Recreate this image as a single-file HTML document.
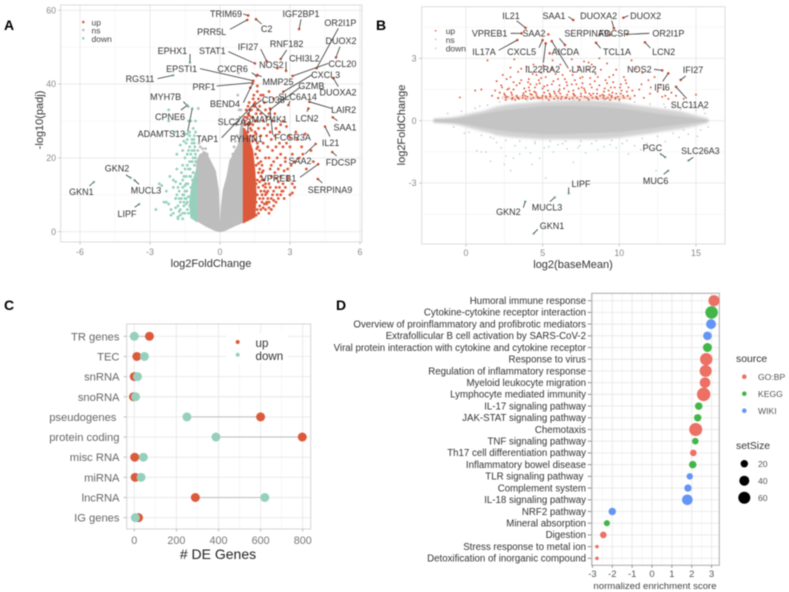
<!DOCTYPE html>
<html lang="en">
<head>
<meta charset="utf-8">
<title>Differential expression figure</title>
<style>
html,body{margin:0;padding:0;background:#fff;}
svg{display:block;filter:blur(0.4px);font-family:"Liberation Sans",sans-serif;}
text{white-space:pre;}
</style>
</head>
<body>
<svg id="figure" xmlns="http://www.w3.org/2000/svg" width="789" height="592" viewBox="0 0 789 592">
  <defs>
    <filter id="soft-edge" x="-5%" y="-30%" width="110%" height="160%"><feGaussianBlur stdDeviation="1.4"/></filter>
    <filter id="soft-core" x="-5%" y="-30%" width="110%" height="160%"><feGaussianBlur stdDeviation="0.7"/></filter>
  </defs>
  <rect x="0" y="0" width="789" height="592" fill="#fff"/>
  <text x="4" y="30" font-size="14" font-weight="bold" fill="#000">A</text>
  <text x="376" y="30" font-size="14" font-weight="bold" fill="#000">B</text>
  <text x="4" y="310" font-size="14" font-weight="bold" fill="#000">C</text>
  <text x="336" y="310" font-size="14" font-weight="bold" fill="#000">D</text>

  <g id="panel-a"></g>
  <g id="panel-b"></g>
  <g id="panel-c"></g>
  <g id="panel-d"></g>

  <text x="211" y="267" font-size="11" fill="#333" text-anchor="middle">log2FoldChange</text>
  <text transform="translate(43,120) rotate(-90)" font-size="11" fill="#333" text-anchor="middle">-log10(padj)</text>
  <text x="573" y="268" font-size="11" fill="#333" text-anchor="middle">log2(baseMean)</text>
  <text transform="translate(405,125) rotate(-90)" font-size="11" fill="#333" text-anchor="middle">log2FoldChange</text>
  <text x="218" y="559" font-size="14" fill="#222" text-anchor="middle"># DE Genes</text>
  <text x="655" y="589" font-size="9.6" fill="#444" text-anchor="middle">normalized enrichment score</text>

  <g font-size="8.5" fill="#444">
    <circle cx="83.3" cy="22" r="1.3" fill="#dc5a3c"/>
    <circle cx="83.3" cy="30" r="1.3" fill="#bdbdbd"/>
    <circle cx="83.3" cy="38.3" r="1.3" fill="#96d0bd"/>
    <text x="91.5" y="25.5">up</text>
    <text x="91.5" y="33.5">ns</text>
    <text x="91.5" y="41.8">down</text>
  </g>
  <g font-size="8.5" fill="#444">
    <circle cx="435.7" cy="30.7" r="0.8" fill="#dc5a3c"/>
    <circle cx="435.7" cy="39.3" r="0.8" fill="#bdbdbd"/>
    <circle cx="435.7" cy="48.3" r="0.8" fill="#a6d6c6"/>
    <text x="445.7" y="34">up</text>
    <text x="445.7" y="43">ns</text>
    <text x="445.7" y="51.5">down</text>
  </g>
  <g id="dumbbell-legend" font-size="11.6" fill="#333">
    <circle cx="237.7" cy="342" r="2" fill="#dc5a3c"/>
    <circle cx="237.7" cy="354.7" r="2" fill="#96d0bd"/>
    <text x="255.5" y="347">up</text>
    <text x="255.5" y="360">down</text>
  </g>
  <g font-size="8.6" fill="#555">
    <text x="736" y="362" font-size="10.4" fill="#333">source</text>
    <circle cx="744.3" cy="376.7" r="2.3" fill="#ec7063"/>
    <circle cx="744.3" cy="393.7" r="2.3" fill="#43b649"/>
    <circle cx="744.3" cy="410.7" r="2.3" fill="#6495f5"/>
    <text x="758" y="380">GO:BP</text>
    <text x="758" y="397">KEGG</text>
    <text x="758" y="414">WIKI</text>
  </g>
  <g font-size="8.6" fill="#555">
    <text x="736" y="449" font-size="10.4" fill="#333">setSize</text>
    <circle cx="744.3" cy="463.7" r="3.7" fill="#000"/>
    <circle cx="744.3" cy="480.7" r="5" fill="#000"/>
    <circle cx="744.3" cy="497.7" r="6" fill="#000"/>
    <text x="758" y="467">20</text>
    <text x="758" y="484">40</text>
    <text x="758" y="501">60</text>
  </g>
</svg>

<script>
/* ---------- Panel A: volcano data ---------- */
const volcanoXTicks = [-6, -3, 0, 3, 6];
const volcanoXMinor = [-4.5, -1.5, 1.5, 4.5];
const volcanoYTicks = [0, 20, 40, 60];
const volcanoYMinor = [10, 30, 50];
const nsEnvelopeFC = [-1,-0.6,-0.2,0,0.2,0.6,1,1,0.95,0.88,0.78,0.65,0.5,0.43,0.3,0.14,0.06,0.02,-0.02,-0.07,-0.2,-0.43,-0.6,-0.86,-1];
const nsEnvelopePadj = [3,1.5,0.3,0,0.3,1.5,2.6,27,30,28,23.5,22,20,19.4,15,11.3,7,2.5,2.5,11.3,16.5,19.4,21.5,21,19];
const upEnvelopeFC = [1,1.25,1.5,1.55,1.5,1.4,1.2,1.05,1];
const upEnvelopePadj = [2.4,3.2,4,10,16,22,26,28,28];
const downEnvelopeFC = [-1,-1.1,-1.25,-1.3,-1.2,-1];
const downEnvelopePadj = [2.7,3.2,3.8,8,13,17];
const volcanoUpFC = [
 2.1,2.2,2.3,2.4,2.5,2.6,2.7,2.8,3.0,3.1,
 2.2,2.3,2.4,2.5,2.6,2.7,2.9,2.1,2.2,2.35,
 2.5,2.6,2.75,2.9,3.05,3.2,2.15,2.3,2.45,2.6,
 2.8,3.1,3.4,3.55,3.7,3.9,4.0,2.1,2.25,2.4,
 2.55,2.7,2.85,3.0,3.3,3.5,3.65,1.8,1.95,2.05,
 2.2,2.35,2.55,1.7,1.85,2.0,2.15,2.4,2.6,2.85,
 1.6,1.75,1.9,2.05,2.25,1.5,1.65,1.85,2.0,1.4,
 1.6,1.75,1.95,2.1,1.35,1.55,1.7,1.9,1.3,1.5,
 1.65,1.85,1.45,1.6,2.1,2.3,1.25,1.15,1.08,1.2,
 1.3,1.6,1.75,2.35,2.7,2.95,3.25,1.05,1.12,1.3,
 1.55,1.6,1.65,1.7,1.75,1.8,1.85,1.9,1.95,2.0,
 1.55,1.6,1.65,1.7,1.75,1.8,1.85,1.9,1.95,2.0,
 1.55,1.6,1.65,1.7,1.75,1.8,1.85,1.9,1.95,2.05,
 1.55,1.6,1.65,1.7,1.75,1.8,1.85,1.52,1.58,1.62,
 1.3,1.35,1.4,1.45,1.5,1.55,1.2,1.25,1.3,1.4,
 1.1,1.15,1.2,1.25,1.35,1.45,1.05,1.5,1.42,1.62,
 2.0,2.1,2.2,2.05,2.15,2.25,1.95,2.1,2.3,2.45,
 2.4,2.55,2.65,2.75,3.1,3.2,2.9,2.2,2.8,3.0
];
const volcanoUpPadj = [
 5,6,7,8,9,10,11,12,10,10.5,
 9,11,12,13.5,15,13,14,13,15,16,
 17,18,16.5,17,18,19,17,19,20,21,
 20,21,20,21,17,22,19,20,22,23,
 24,23,24,25.5,25,23,26.5,18,20,23,
 25,26,27,22,24,26,27,28,29,28.5,
 24,26,28,29,30,27,28,30,31,29,
 30,32,33,32,31,32,34,35,33,35,
 36,37,37,38,38,36,35,31,30,34,
 39,39.5,37,32,30,26,27,29,33,28,
 4.5,6,5,7,6,8,6.5,7.5,6,8,
 8,10,12,9,11,10,9,11,10,10.5,
 13,14,16,13.5,15,14,12.5,14,13,9,
 18,20,18.5,17,19,16,16.5,21,22.5,23,
 26,27.5,24.5,26,25,26.5,27,29,29.5,31,
 29,31,32,31.5,33,34,31,30,36,33,
 7.5,8,6,11,12,10,12,6.5,8.5,10,
 14.5,12,11,9,13,12,15,18,19,23
];
const volcanoDownFC = [
 -1.05,-1.1,-1.2,-1.3,-1.4,-1.5,-1.6,-1.7,-1.8,-1.9,
 -2.0,-2.1,-2.2,-2.3,-2.4,-2.5,-2.6,-2.75,-2.1,-2.0,
 -1.6,-1.7,-1.8,-1.9,-2.0,-2.15,-1.55,-1.65,-1.75,-1.85,
 -1.5,-1.6,-1.4,-1.5,-1.3,-1.4,-1.25,-1.35,-1.15,-1.2,
 -1.3,-1.45,-1.55,-1.7,-1.1,-1.2,-1.3,-1.4,-1.5,-1.05,
 -1.15,-1.3,-1.25,-1.05,-2.2,-1.35,-1.4,-1.75,-1.6,-1.05,
 -1.6,-1.7,-1.8,-1.55,-1.9,-1.65,-1.85,-1.5,-1.6,-1.75,
 -1.1,-1.2,-1.05,-1.15,-1.3,-1.35,-1.45,-1.25,-1.1,-1.2,
 -2.2,-1.95,-1.85,-1.6,-1.45,-1.55,-1.7,-2.3,-1.9,-1.8,
 -1.35,-1.4,-1.45,-1.5,-1.35,-1.42,-1.5,-1.38,-1.45,-1.55,
 -1.1,-1.15,-1.05,-1.1,-1.2,-1.25,-1.08,-1.12,-1.18,-1.28
];
const volcanoDownPadj = [
 4,5,6,7,8,9,10,8,7,9,
 12,6,7.5,8,8,12.5,13,6,4.5,5,
 12,13,12,13.5,14,15,15,16,11,17,
 17,18,18,20,19,21,21,22,20,22,
 23,24,24.5,23.5,24,25,26,25,26.5,27,
 28,27,30,30,33,30,26.5,9,5,19,
 3.5,4.5,3.5,7,6.5,9,10,11,14,5.5,
 18,19,21,16,15,17,15,12,26,24,
 30,27,21,22,13,10,6,11,9,4,
 5,6,7.5,5,9.5,11,12.5,13,9,8,
 18,16,20,22,19,15,23,25,14,17
];
const volcanoNsFC = [0.79,0.76,-0.93,0.9,0.85,0.95,-0.75,-0.7,-0.85,0.7,0.6,0.82,0.92,-0.95,-0.9,0.55,-0.55,0.72,0.66,-0.62];
const volcanoNsPadj = [43,37,33.4,33,31,30,22.5,21.5,23,29,23,33,27,22,24,21,21,26,24.5,22.5];
const volcanoGeneNames = ["TRIM69","PRR5L","C2","IGF2BP1","OR2I1P","DUOX2","RNF182","IFI27","NOS2","STAT1","CHI3L2","CCL20","EPHX1","EPSTI1","CXCR6","MMP25","CXCL3","DUOXA2","RGS11","PRF1","GZMB","SLC6A14","MYH7B","CD38","BEND4","LAIR2","CPNE6","LCN2","MAP4K1","SLC2A3","TAP1","PYHIN1","ADAMTS13","FCGR3A","SAA1","IL21","FDCSP","SAA2","VPREB1","SERPINA9","GKN2","MUCL3","GKN1","LIPF"];
const volcanoGeneFC = [1.21,1.17,1.54,3.39,4.14,4.97,2.6,2.0,2.46,1.5,2.83,3.11,-1.29,1.43,1.57,1.6,2.71,4.86,-2,1.4,2.17,2.93,-1.36,1.43,1.4,3.83,-1.4,3.79,1.5,1.29,1.46,1.21,-1.19,2.14,4.83,4.5,4.81,4.1,4.21,4.19,-3.83,-3.67,-5.4,-3.46];
const volcanoGenePadj = [58.6,57.4,57.6,54.9,44.3,47.2,46.8,46.2,44.3,45.6,43.6,42.2,45.8,40.9,42.2,42.5,37.9,41.6,42.4,40.4,33.2,34.3,33.9,34,40.2,35.2,34.3,33.4,34,33,34.6,29.4,33.4,33.4,31,28.5,21.6,23.8,18.3,14.3,14.6,14,13.5,7.5];
/* label layout in 3x crop pixels: labelX, labelY, leaderEndX, leaderEndY */
const volcanoLabelLayout = [[678,42,730,42],[635,95,690,88],[800,87,785,72],[903,42,903,58],[1021,68,1015,85],[1023,122,1020,140],[860,132,860,150],[744,140,782,147],[814,195,0,0],[637,153,685,155],[913,175,858,185],[1027,192,985,190],[517,153,570,162],[545,206,600,206],[698,206,755,218],[834,246,785,230],[977,224,935,225],[1014,277,1015,260],[420,237,473,236],[612,260,650,258],[934,258,900,262],[893,290,870,303],[497,290,550,305],[820,299,785,300],[675,311,730,308],[1031,329,995,325],[510,350,543,330],[921,355,921,335],[808,358,800,350],[703,365,745,345],[622,417,665,413],[739,417,743,395],[484,402,563,395],[878,412,818,405],[1035,382,1012,362],[992,428,990,410],[1023,487,1010,468],[900,482,915,462],[836,535,900,532],[990,570,967,549],[351,505,378,525],[438,571,417,553],[244,575,268,558],[381,641,404,622]];

/* ---------- Panel B: MA data ---------- */
const maXTicks = [0, 5, 10, 15];
const maXMinor = [2.5, 7.5, 12.5];
const maYTicks = [-3, 0, 3];
const maYMinor = [-4.5, -1.5, 1.5, 4.5];
const maEnvelopeBM = [-2.1,-1.5,-1,-0.5,0,0.5,1,1.5,2,3,4,5,6,7,8,9,10,11,12,13,14,15,15.8];
const maOuterUpper = [0.1,0.12,0.15,0.2,0.3,0.38,0.45,0.55,0.68,0.8,0.85,0.92,0.95,0.98,0.98,0.95,0.88,0.75,0.65,0.55,0.45,0.25,0.1];
const maOuterLower = [-0.1,-0.12,-0.15,-0.2,-0.3,-0.4,-0.5,-0.58,-0.7,-0.8,-0.85,-0.9,-0.9,-0.9,-0.9,-0.88,-0.82,-0.72,-0.62,-0.5,-0.4,-0.25,-0.1];
const maInnerUpper = [0.07,0.08,0.1,0.13,0.18,0.25,0.32,0.38,0.45,0.55,0.62,0.7,0.72,0.72,0.7,0.66,0.6,0.5,0.4,0.3,0.2,0.1,0.04];
const maInnerLower = [-0.07,-0.08,-0.1,-0.13,-0.18,-0.25,-0.32,-0.38,-0.45,-0.55,-0.6,-0.65,-0.65,-0.62,-0.6,-0.58,-0.55,-0.46,-0.38,-0.28,-0.18,-0.1,-0.04];
const maUpBandBM = [2.3, 10.8];
const maUpBandLfc = [1.02, 1.2];
const maUpBM = [
 1.7,1.9,2.1,2.3,2.5,2.7,2.9,3.1,3.3,3.5,
 3.7,3.9,4.1,4.3,4.5,4.7,4.9,5.1,5.3,5.5,
 5.7,5.9,6.1,6.3,6.5,6.7,6.9,7.1,7.3,7.5,
 7.7,7.9,8.1,8.3,8.5,8.7,8.9,9.1,9.3,9.5,
 9.7,9.9,10.1,10.3,10.5,10.7,11,11.3,11.6,12,
 2.0,2.4,2.8,3.2,3.6,4.0,4.4,4.8,5.2,5.6,
 6.0,6.4,6.8,7.2,7.6,8.0,8.4,8.8,9.2,9.6,
 2.2,2.6,3.0,3.4,3.8,4.2,4.6,5.0,5.4,5.8,
 6.2,6.6,7.0,7.4,7.8,8.2,8.6,9.0,9.4,9.8,
 1.4,2.9,3.15,3.95,4.6,5.05,5.65,6.15,6.9,7.7,
 8.2,8.7,9.2,9.8,10.3,10.8,11.1,11.5,11.9,12.3,
 12.5,12.7,12.8,12.9,13,13.2,13.4,13.7,14.2,15,
 3.05,3.45,3.85,4.25,4.65,5.25,5.75,6.25,6.75,7.25,
 7.75,8.25,8.75,9.25,9.75,10.25,4.75,6.55,8.05,9.45,
 2.35,2.65,3.3,4.05,4.45,5.45,6.05,7.05,7.55,8.55,
 9.05,9.55,10.05,10.45,10.85,11.45,12.05,1.0,0.6,-0.4,
 2.1,2.55,2.95,3.35,3.75,4.15,4.55,4.95,5.35,5.75,
 6.15,6.55,6.95,7.35,7.75,8.15,8.55,8.95,9.35,9.75,
 10.15,10.55,3.1,3.6,4.1,4.6,5.1,5.6,6.1,6.6,
 7.1,7.6,8.1,8.6,9.1,9.6,10.1,10.6,2.7,4.35,
 4.9,5.35,5.85,6.45,6.95,7.45,7.95,8.45,9.35,10.4,
 3.4,3.9,4.4,5.0,5.5,6.0,6.5,7.0,7.5,8.0,
 8.5,9.0,9.5,10.0,2.6,3.0,3.7,4.2,4.8,5.2
];
const maUpLfc = [
 1.2,1.45,1.1,1.7,1.3,1.15,2.1,1.5,1.2,1.8,
 1.1,1.4,2.0,1.25,1.6,1.1,2.3,1.35,1.7,1.15,
 1.9,1.2,1.5,2.2,1.1,1.4,1.75,1.2,2.6,1.3,
 1.55,1.1,2.05,1.3,1.15,1.7,1.25,1.05,1.45,1.2,
 1.6,1.15,1.3,1.1,1.4,1.05,1.2,1.5,1.1,1.3,
 1.9,2.2,1.55,1.0,2.5,1.15,2.7,1.8,2.1,2.5,
 2.0,1.55,2.4,1.75,2.1,2.8,1.9,2.45,1.8,2.2,
 1.35,1.0,1.25,2.35,1.55,1.75,1.25,1.55,1.0,1.3,
 1.05,1.25,1.45,1.0,1.35,1.6,1.05,1.4,1.0,1.3,
 2.9,2.55,2.95,2.6,2.2,2.65,2.9,2.7,2.95,2.85,
 2.7,3.0,2.75,2.45,2.1,2.9,2.5,2.3,1.95,2.1,
 1.4,1.7,1.15,1.5,1.2,1.05,1.35,1.2,1.05,1.25,
 1.1,1.05,1.2,1.05,1.15,1.1,1.05,1.15,1.05,1.1,
 1.15,1.1,1.2,1.1,1.05,1.2,1.95,1.85,1.3,1.6,
 1.6,2.0,1.7,1.85,1.4,1.3,1.4,1.25,1.6,1.5,
 1.55,1.35,1.6,1.8,1.45,1.75,1.6,1.5,1.45,1.12,
 1.08,1.22,1.35,1.12,1.32,1.45,1.35,1.1,1.45,1.4,
 1.3,1.12,1.1,1.55,1.45,1.22,1.3,1.1,1.25,1.1,
 1.45,1.2,1.85,1.95,1.6,1.75,1.65,1.75,1.7,1.7,
 1.95,1.8,1.75,2.1,1.95,1.85,1.75,1.6,1.5,2.25,
 2.05,2.35,2.25,2.0,2.2,2.05,2.45,2.25,2.1,1.95,
 1.1,1.05,1.1,1.2,1.22,1.1,1.08,1.3,1.18,1.02,
 1.1,1.2,1.12,1.02,1.12,1.05,1.22,1.28,1.08,1.18
];
const maDownBM = [
 0.7,1,1.3,1.6,2,2.3,2.6,2.9,3.2,3.5,
 3.9,4.2,4.5,4.8,5.1,5.4,5.7,6,6.3,6.6,
 7,7.4,7.8,8.2,8.6,9,9.4,9.8,10.2,10.6,
 11,11.4,11.8,12.4,12.7,5.2,4.3,3.1,2.5,7.3
];
const maDownLfc = [
 -1.45,-1.5,-1.5,-1.95,-1.05,-1.3,-1.7,-2.4,-1.2,-1.6,
 -1.3,-1.55,-1.1,-1.8,-1.3,-1.25,-1.5,-1.15,-1.1,-1.35,
 -2.0,-1.2,-1.55,-1.1,-1.4,-1.25,-1.15,-1.3,-1.1,-1.6,
 -1.2,-1.4,-1.1,-2.4,-1.65,-2.75,-2.1,-1.8,-2.1,-1.3
];
const maNsBM = [
 -1.2,-0.8,-0.3,0.2,0.6,1,1.4,1.8,2.2,2.6,
 3,3.5,4,4.5,5,5.5,6,6.5,7,7.5,
 8,8.5,9,9.5,10,10.5,11,11.5,12,12.5,
 13,13.5,14,14.5,15,15.3,15.6,15.8,14.8,14.2,
 13.5,13,14.4,15.5,-0.1,0.9,1.6,12.9,13.9,15.1
];
const maNsLfc = [
 0.35,-0.3,0.45,-0.55,0.6,-0.7,0.75,-0.85,0.9,-0.95,
 1.0,-0.98,0.98,-1.0,1.0,-0.98,1.0,-0.98,1.0,-0.98,
 0.98,-0.97,1.0,-0.95,0.95,-0.95,0.9,-0.85,0.8,-0.75,
 0.65,-0.6,0.55,-0.65,0.5,-0.45,0.35,-0.3,0.75,-0.45,
 0.7,-1.0,0.9,0.55,-0.6,0.7,-0.8,0.8,-0.8,-0.75
];
const maGeneNames = ["IL21","SAA1","DUOXA2","DUOX2","VPREB1","SAA2","SERPINA9","FDCSP","OR2I1P","TCL1A","LCN2","IL17A","CXCL5","AICDA","IL22RA2","LAIR2","NOS2","IFI27","IFI6","SLC11A2","PGC","SLC26A3","MUC6","LIPF","MUCL3","GKN2","GKN1"];
const maGeneBM = [3.89,7.0,9.65,10.26,3.63,5.37,6.46,9.4,10.5,8.48,11.67,3.35,5,5.46,5.2,5.59,12.8,14,13.2,13.7,13,14.5,13.2,6.7,5.8,3.87,4.41];
const maGeneLfc = [4.46,4.84,4.44,4.95,4.2,4.15,3.64,4.12,4.15,3.75,3.77,3.88,3.88,3.24,3.72,3.83,2.42,1.96,2.28,1.63,-1.76,-1.92,-2.4,-3.5,-3.68,-3.88,-5.43];
const maLabelLayout = [[393,47,410,62],[522,47,565,50],[656,47,695,62],[797,47,745,47],[329,100,392,100],[462,100,0,0],[620,100,538,115],[702,100,0,0],[865,100,808,100],[711,155,662,145],[851,155,811,144],[312,155,356,151],[425,155,477,143],[556,155,0,0],[488,208,490,188],[612,208,565,205],[778,208,822,208],[939,210,917,228],[846,262,848,244],[929,315,920,296],[817,444,840,460],[961,452,940,472],[827,542,851,523],[603,551,566,562],[501,622,510,605],[385,635,430,623],[516,677,473,688]];

/* ---------- Panel C: dumbbell data ---------- */
const biotypes = ["TR genes","TEC","snRNA","snoRNA","pseudogenes ","protein coding","misc RNA","miRNA","lncRNA","IG genes"];
const upCounts = [72,12,0,-4,600,798,2,4,290,20];
const downCounts = [0,48,15,6,250,388,43,32,620,5];
const countTicks = [0,200,400,600,800];
const countMinor = [100,300,500,700];

/* ---------- Panel D: enrichment data ---------- */
const pathways = ["Humoral immune response","Cytokine-cytokine receptor interaction","Overview of proinflammatory and profibrotic mediators","Extrafollicular B cell activation by SARS-CoV-2","Viral protein interaction with cytokine and cytokine receptor","Response to virus","Regulation of inflammatory response","Myeloid leukocyte migration","Lymphocyte mediated immunity","IL-17 signaling pathway","JAK-STAT signaling pathway","Chemotaxis","TNF signaling pathway","Th17 cell differentiation pathway","Inflammatory bowel disease","TLR signaling pathway ","Complement system","IL-18 signaling pathway","NRF2 pathway","Mineral absorption","Digestion","Stress response to metal ion","Detoxification of inorganic compound"];
const nesValues = [3.12,3.0,2.97,2.79,2.79,2.73,2.7,2.67,2.6,2.35,2.3,2.2,2.18,2.08,2.05,1.9,1.81,1.78,-2.0,-2.27,-2.45,-2.77,-2.77];
const setSizes = [50,66,40,29,32,64,60,46,76,21,20,71,15,15,21,14,20,46,20,12,15,1,1];
const pathwaySources = ["GO:BP","KEGG","WIKI","WIKI","KEGG","GO:BP","GO:BP","GO:BP","GO:BP","KEGG","KEGG","GO:BP","KEGG","GO:BP","KEGG","WIKI","WIKI","WIKI","WIKI","KEGG","GO:BP","GO:BP","GO:BP"];
const nesTicks = [-3,-2,-1,0,1,2,3];
const nesMinor = [-2.5,-1.5,-0.5,0.5,1.5,2.5];

/* ---------- helpers ---------- */
const SVGNS = "http://www.w3.org/2000/svg";
const RED = "#dc5a3c", GREEN = "#96d0bd", GRAY = "#bdbdbd";
const sourceColor = {"GO:BP":"#ec7063","KEGG":"#43b649","WIKI":"#6495f5"};
function mk(tag, parent, attrs, txt) {
  const e = document.createElementNS(SVGNS, tag);
  for (const k in attrs) e.setAttribute(k, attrs[k]);
  if (txt !== undefined) e.textContent = txt;
  parent.appendChild(e);
  return e;
}
function polyPoints(xs, ys, fx, fy) {
  return xs.map((v, i) => fx(v).toFixed(2) + "," + fy(ys[i]).toFixed(2)).join(" ");
}
function drawGridX(g, vals, fx, top, bottom, color, w) {
  vals.forEach(v => {
    const l = mk("line", g, {x1:fx(v), x2:fx(v), y1:top, y2:bottom, stroke:color, "stroke-width":w});
    
    
  });
}
function drawGridY(g, vals, fy, left, right, color, w) {
  vals.forEach(v => {
    const l = mk("line", g, {x1:left, x2:right, y1:fy(v), y2:fy(v), stroke:color, "stroke-width":w});
    
    
  });
}
function drawTicksX(g, vals, fx, bottom, labelY, size, color, tickColor) {
  vals.forEach(v => {
    const t = mk("line", g, {x1:fx(v), x2:fx(v), y1:bottom, y2:bottom+2.5, stroke:tickColor, "stroke-width":0.8});
    
    
    const l = mk("text", g, {x:fx(v), y:labelY, "font-size":size, fill:color, "text-anchor":"middle"}, String(v));
    
    
  });
}
function drawTicksY(g, vals, fy, left, labelX, size, color, tickColor, offset) {
  vals.forEach(v => {
    const t = mk("line", g, {x1:left-2.5, x2:left, y1:fy(v), y2:fy(v), stroke:tickColor, "stroke-width":0.8});
    
    
    const l = mk("text", g, {x:labelX, y:fy(v)+offset, "font-size":size, fill:color, "text-anchor":"end"}, String(v));
    
    
  });
}
function drawFrame(g, x, y, w, h, color) {
  const r = mk("rect", g, {x:x, y:y, width:w, height:h, fill:"none", stroke:color, "stroke-width":1});
  
  
}
function drawGeneLabels(g, names, xs, ys, layout, fx, fy) {
  names.forEach((n, i) => {
    const [lx, ly, ex, ey] = layout[i];
    const px = fx(xs[i]), py = fy(ys[i]);
    const d = mk("circle", g, {cx:px, cy:py, r:1.3, fill:ys[i] < 0 || xs[i] < 0 ? GREEN : RED});
    
    
    if (ex) {
      const s = mk("line", g, {x1:px, y1:py, x2:ex/3 + g.__ox, y2:ey/3, stroke:"#333", "stroke-width":0.8});
      
      
    }
  });
  names.forEach((n, i) => {
    const [lx, ly] = layout[i];
    const t = mk("text", g, {x:lx/3 + g.__ox, y:ly/3 + 3.2, "font-size":9, fill:"#333", "text-anchor":"middle"}, n);
    
    
  });
}

/* ---------- Panel A ---------- */
(function () {
  const g = document.getElementById("panel-a");
  g.__ox = 0;
  const ax = v => 220 + v * 23.33, ay = v => 231.7 - v * 3.69;
  const L = 60.7, R = 362, T = 5, B = 242;
  drawGridX(g, volcanoXMinor, ax, T, B, "#f3f3f3", 0.6);
  drawGridY(g, volcanoYMinor, ay, L, R, "#f3f3f3", 0.6);
  drawGridX(g, volcanoXTicks, ax, T, B, "#e8e8e8", 0.9);
  drawGridY(g, volcanoYTicks, ay, L, R, "#e8e8e8", 0.9);
  const ns = mk("polygon", g, {points:polyPoints(nsEnvelopeFC, nsEnvelopePadj, ax, ay), fill:GRAY, stroke:GRAY, "stroke-width":1, "stroke-linejoin":"round"});
  
  
  const up = mk("polygon", g, {points:polyPoints(upEnvelopeFC, upEnvelopePadj, ax, ay), fill:RED, stroke:RED, "stroke-width":1, "stroke-linejoin":"round"});
  
  
  const dn = mk("polygon", g, {points:polyPoints(downEnvelopeFC, downEnvelopePadj, ax, ay), fill:GREEN, stroke:GREEN, "stroke-width":1, "stroke-linejoin":"round"});
  
  
  volcanoNsFC.forEach((v, i) => {
    const c = mk("circle", g, {cx:ax(v), cy:ay(volcanoNsPadj[i]), r:1.4, fill:GRAY});
    
    
  });
  volcanoDownFC.forEach((v, i) => {
    const c = mk("circle", g, {cx:ax(v), cy:ay(volcanoDownPadj[i]), r:1.4, fill:GREEN});
    
    
  });
  volcanoUpFC.forEach((v, i) => {
    const c = mk("circle", g, {cx:ax(v), cy:ay(volcanoUpPadj[i]), r:1.4, fill:RED});
    
    
  });
  drawFrame(g, L, T, R - L, B - T, "#dcdcdc");
  drawTicksX(g, volcanoXTicks, ax, B, 255, 8.8, "#888", "#bbb");
  drawTicksY(g, volcanoYTicks, ay, L, 56, 8.8, "#888", "#bbb", 3.1);
  drawGeneLabels(g, volcanoGeneNames, volcanoGeneFC, volcanoGenePadj, volcanoLabelLayout, ax, ay);
})();

/* ---------- Panel B ---------- */
(function () {
  const g = document.getElementById("panel-b");
  g.__ox = 380;
  const ax = v => 466 + v * 15.33, ay = v => 120.7 - v * 20.8;
  const L = 421.7, R = 725, T = 6.7, B = 244;
  drawGridX(g, maXMinor, ax, T, B, "#f3f3f3", 0.6);
  drawGridY(g, maYMinor, ay, L, R, "#f3f3f3", 0.6);
  drawGridX(g, maXTicks, ax, T, B, "#e8e8e8", 0.9);
  drawGridY(g, maYTicks, ay, L, R, "#e8e8e8", 0.9);
  const bandX = [maUpBandBM[0], maUpBandBM[1], maUpBandBM[1], maUpBandBM[0]];
  const bandY = [maUpBandLfc[0], maUpBandLfc[0], maUpBandLfc[1], maUpBandLfc[1]];
  const band = mk("polygon", g, {points:polyPoints(bandX, bandY, ax, ay), fill:"#e39a85", opacity:0.3});
  
  
  const outerX = maEnvelopeBM.concat(maEnvelopeBM.slice().reverse());
  const outerY = maOuterUpper.concat(maOuterLower.slice().reverse());
  const outer = mk("polygon", g, {points:polyPoints(outerX, outerY, ax, ay), fill:"#d2d2d2", filter:"url(#soft-edge)"});
  
  
  const innerY = maInnerUpper.concat(maInnerLower.slice().reverse());
  const inner = mk("polygon", g, {points:polyPoints(outerX, innerY, ax, ay), fill:"#c4c4c4", filter:"url(#soft-core)"});
  
  
  maNsBM.forEach((v, i) => {
    const c = mk("circle", g, {cx:ax(v), cy:ay(maNsLfc[i]), r:0.8, fill:"#c4c4c4"});
    
    
  });
  maDownBM.forEach((v, i) => {
    const c = mk("circle", g, {cx:ax(v), cy:ay(maDownLfc[i]), r:0.8, fill:"#a6d6c6"});
    
    
  });
  maUpBM.forEach((v, i) => {
    const c = mk("circle", g, {cx:ax(v), cy:ay(maUpLfc[i]), r:0.95, fill:RED});
    
    
  });
  drawFrame(g, L, T, R - L, B - T, "#dcdcdc");
  drawTicksX(g, maXTicks, ax, B, 256, 8.8, "#888", "#bbb");
  drawTicksY(g, maYTicks, ay, L, 416.5, 8.8, "#888", "#bbb", 3.1);
  drawGeneLabels(g, maGeneNames, maGeneBM, maGeneLfc, maLabelLayout, ax, ay);
})();

/* ---------- Panel C ---------- */
(function () {
  const g = document.getElementById("panel-c");
  const ax = v => 134.3 + v * 0.2105, ay = i => 336.3 + i * 20.15;
  const L = 126.7, R = 310.7, T = 324, B = 529;
  const rows = biotypes.map((_, i) => i);
  drawGridX(g, countMinor, ax, T, B, "#f3f3f3", 0.6);
  drawGridX(g, countTicks, ax, T, B, "#e8e8e8", 0.9);
  drawGridY(g, rows, ay, L, R, "#e8e8e8", 0.9);
  const box = mk("rect", g, {x:226, y:333, width:62, height:30, fill:"#fff"});
  
  
  biotypes.forEach((name, i) => {
    const s = mk("line", g, {x1:ax(upCounts[i]), x2:ax(downCounts[i]), y1:ay(i), y2:ay(i), stroke:"#bdbdbd", "stroke-width":1});
    
    
    const u = mk("circle", g, {cx:ax(upCounts[i]), cy:ay(i), r:4.5, fill:RED});
    
    
    const d = mk("circle", g, {cx:ax(downCounts[i]), cy:ay(i), r:4.5, fill:GREEN});
    
    
    const t = mk("line", g, {x1:L-3, x2:L, y1:ay(i), y2:ay(i), stroke:"#aaa", "stroke-width":0.8});
    
    
    const l = mk("text", g, {x:119.5, y:ay(i)+4, "font-size":11.2, fill:"#666", "text-anchor":"end"}, name);
    
    
  });
  drawFrame(g, L, T, R - L, B - T, "#d4d4d4");
  drawTicksX(g, countTicks, ax, B, 544, 10.8, "#777", "#aaa");
  document.getElementById("figure").appendChild(document.getElementById("dumbbell-legend"));
})();

/* ---------- Panel D ---------- */
(function () {
  const g = document.getElementById("panel-d");
  const ax = v => 652 + v * 19.87, ay = i => 300.7 + i * 11.71;
  const L = 591.7, R = 719.3, T = 293.3, B = 565.3;
  const rows = pathways.map((_, i) => i);
  const rad = s => Math.sqrt(2.5 + 0.56 * s);
  drawGridX(g, nesMinor, ax, T, B, "#f3f3f3", 0.6);
  drawGridX(g, nesTicks, ax, T, B, "#e8e8e8", 0.9);
  drawGridY(g, rows, ay, L, R, "#e8e8e8", 0.9);
  pathways.forEach((name, i) => {
    const t = mk("line", g, {x1:L-4, x2:L, y1:ay(i), y2:ay(i), stroke:"#777", "stroke-width":0.8});
    
    
    const l = mk("text", g, {x:586, y:ay(i)+3.3, "font-size":9.7, fill:"#333", "text-anchor":"end"}, name);
    
    
  });
  drawFrame(g, L, T, R - L, B - T, "#ababab");
  pathways.forEach((name, i) => {
    const c = mk("circle", g, {cx:ax(nesValues[i]), cy:ay(i), r:rad(setSizes[i]), fill:sourceColor[pathwaySources[i]]});
    
    
  });
  drawTicksX(g, nesTicks, ax, B, 577, 9.4, "#555", "#777");
})();
</script>
</body>
</html>
